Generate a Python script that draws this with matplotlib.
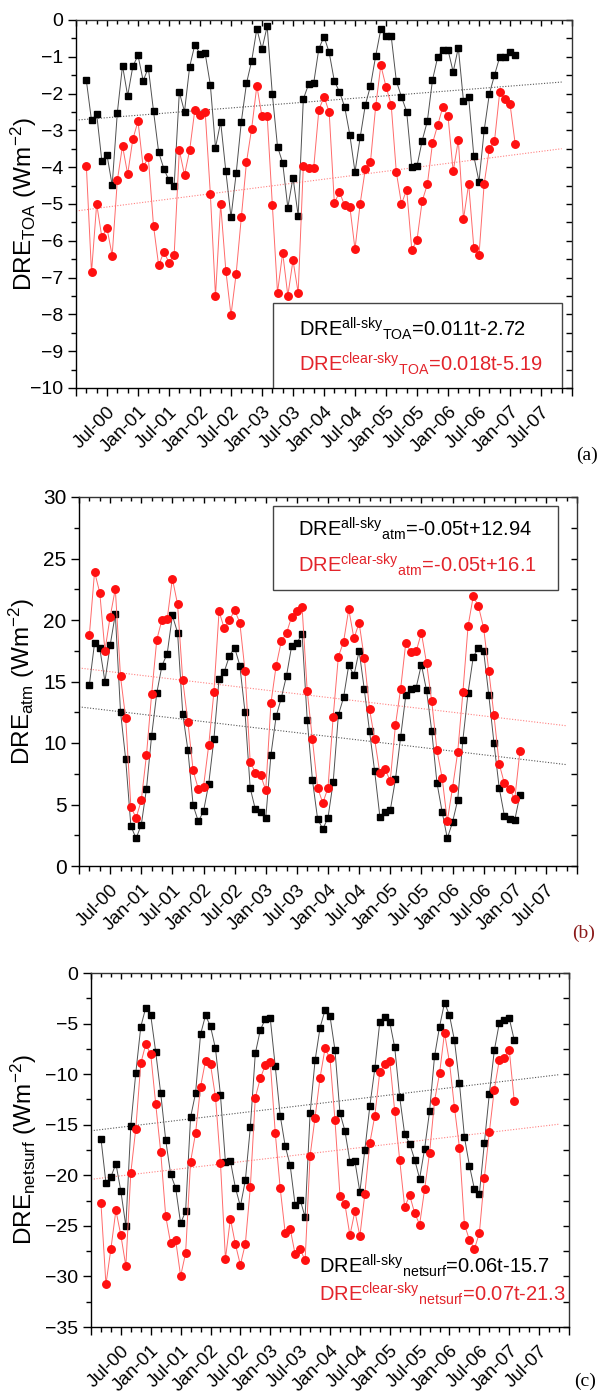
import numpy as np
import matplotlib
matplotlib.use('Agg')
import matplotlib.pyplot as plt
from matplotlib.ticker import MultipleLocator, FixedLocator
from matplotlib.patches import Rectangle

plt.rcParams['font.family'] = ['Liberation Sans', 'DejaVu Sans']
plt.rcParams['mathtext.fontset'] = 'custom'
plt.rcParams['mathtext.rm'] = 'Liberation Sans'
plt.rcParams['mathtext.it'] = 'Liberation Sans:italic'
plt.rcParams['mathtext.bf'] = 'Liberation Sans:bold'
plt.rcParams['mathtext.default'] = 'regular'

# ---------------- data ----------------
# months counted from Jan-2000 (0); data run Mar-2000 .. Feb-2007
months = np.arange(2, 86)

tick_months = list(range(0, 97, 6))
tick_labels = ['', 'Jul-00', 'Jan-01', 'Jul-01', 'Jan-02', 'Jul-02', 'Jan-03', 'Jul-03',
               'Jan-04', 'Jul-04', 'Jan-05', 'Jul-05', 'Jan-06', 'Jul-06', 'Jan-07',
               'Jul-07', '']

toa_all = [-1.64, -2.73, -2.55, -3.83, -3.67, -4.49, -2.52, -1.24, -2.06, -1.26, -0.96,
           -1.65, -1.30, -2.47, -3.59, -4.04, -4.36, -4.50, -1.96, -2.49, -1.27, -0.67,
           -0.92, -0.91, -1.76, -3.47, -2.77, -4.11, -5.36, -4.17, -2.76, -1.72, -1.11,
           -0.24, -0.79, -0.17, -2.02, -3.44, -3.88, -5.10, -4.28, -5.32, -2.15, -1.75,
           -1.72, -0.78, -0.45, -0.88, -1.66, -1.95, -2.36, -3.12, -4.13, -3.19, -2.31,
           -1.79, -0.98, -0.25, -0.43, -0.43, -1.66, -2.09, -2.49, -3.99, -3.97, -3.28,
           -2.75, -1.63, -1.01, -0.81, -0.81, -1.41, -0.75, -2.21, -2.10, -3.70, -4.39,
           -3.00, -2.01, -1.50, -1.01, -1.00, -0.87, -0.95]
toa_clr = [-3.96, -6.86, -5.00, -5.90, -5.66, -6.40, -4.36, -3.42, -4.19, -3.24, -2.75,
           -4.00, -3.73, -5.59, -6.67, -6.30, -6.59, -6.38, -3.54, -4.21, -3.54, -2.44,
           -2.58, -2.49, -4.72, -7.51, -5.00, -6.81, -8.02, -6.89, -5.36, -3.86, -2.95,
           -1.79, -2.62, -2.60, -5.02, -7.41, -6.32, -7.49, -6.53, -7.41, -3.96, -4.03,
           -4.03, -2.45, -2.08, -2.50, -4.97, -4.68, -5.04, -5.07, -6.23, -4.99, -4.05,
           -3.85, -2.35, -1.23, -1.81, -2.30, -4.14, -5.00, -4.61, -6.25, -5.98, -4.92,
           -4.47, -3.35, -2.86, -2.36, -2.61, -4.11, -3.27, -5.41, -4.45, -6.19, -6.39,
           -4.45, -3.51, -3.29, -1.97, -2.15, -2.28, -3.36]

atm_all = [14.73, 18.14, 17.71, 15.0, 17.93, 20.47, 12.56, 8.67, 3.25, 2.25, 3.33,
           6.26, 10.59, 14.08, 16.30, 17.25, 20.37, 18.98, 12.37, 9.40, 4.93,
           3.63, 4.44, 6.66, 10.29, 15.22, 15.79, 17.08, 17.76, 16.30, 12.51,
           6.34, 4.60, 4.41, 3.87, 9.04, 12.16, 13.67, 15.46, 17.90, 18.14,
           18.85, 11.86, 6.99, 3.82, 3.0, 3.93, 6.82, 12.27, 13.70, 16.33,
           15.49, 17.49, 14.35, 10.97, 7.69, 4.01, 4.36, 4.52, 7.04, 10.48,
           13.89, 14.35, 14.51, 16.38, 14.27, 10.97, 6.77, 4.41, 2.25, 3.55,
           5.36, 10.24, 14.08, 17.0, 17.76, 17.49, 13.87, 9.97, 6.36, 4.09,
           3.82, 3.74, 5.77]
atm_clr = [18.79, 23.91, 22.23, 17.52, 20.25, 22.53, 15.41, 12.02, 4.82, 3.90, 5.33,
           8.99, 13.97, 18.41, 20.04, 20.07, 23.37, 21.28, 15.11, 11.70, 7.77,
           6.26, 6.45, 9.80, 14.11, 20.71, 19.31, 19.98, 20.80, 19.79, 15.87,
           8.48, 7.58, 7.39, 6.17, 13.24, 16.27, 18.28, 18.93, 20.28, 20.77,
           21.07, 14.19, 10.29, 6.36, 5.12, 6.36, 12.13, 17.03, 18.22, 20.88,
           18.50, 19.77, 16.87, 12.78, 10.29, 7.53, 7.85, 6.93, 11.45, 14.40,
           18.17, 17.38, 17.46, 18.95, 16.49, 13.38, 9.42, 7.17, 3.66, 6.34,
           9.23, 14.11, 19.50, 21.93, 21.12, 19.36, 15.84, 12.24, 8.31, 6.72,
           6.26, 5.42, 9.34]

surf_all = [-16.37, -20.76, -20.17, -18.84, -21.58, -25.02, -15.08, -9.87, -5.31, -3.43, -4.19,
            -7.82, -11.88, -16.50, -19.90, -21.25, -24.75, -23.56, -14.26, -11.88, -6.07,
            -4.19, -5.28, -7.46, -12.08, -18.71, -18.58, -21.22, -23.07, -20.50, -15.25,
            -7.95, -5.64, -4.55, -4.49, -9.21, -14.09, -17.10, -19.0, -22.97, -22.41,
            -24.13, -13.89, -8.65, -5.41, -3.66, -4.26, -7.62, -13.83, -15.61, -18.65,
            -18.6, -21.65, -17.49, -13.17, -9.44, -4.85, -4.39, -4.85, -7.36, -12.28,
            -15.94, -16.86, -18.45, -20.33, -17.39, -13.66, -8.22, -5.31, -2.94, -4.19,
            -6.67, -10.92, -16.24, -19.04, -21.35, -21.85, -16.83, -11.95, -7.66, -4.95,
            -4.65, -4.46, -6.63]
surf_clr = [-22.77, -30.79, -27.26, -23.47, -25.94, -28.98, -19.74, -15.38, -8.94, -7.03, -8.05,
            -12.97, -17.69, -24.03, -26.73, -26.40, -29.97, -27.69, -18.65, -15.84, -11.25,
            -8.68, -9.04, -12.24, -18.78, -28.25, -24.29, -26.83, -28.85, -26.77, -21.19,
            -12.31, -10.43, -9.11, -8.78, -15.78, -21.29, -25.68, -25.27, -27.82, -27.29,
            -28.42, -18.09, -14.29, -10.36, -7.46, -8.45, -14.55, -22.01, -22.87, -25.94,
            -23.56, -26.01, -21.82, -16.80, -14.13, -9.77, -9.01, -8.68, -13.66, -18.51,
            -23.14, -21.98, -23.73, -24.88, -21.39, -17.79, -12.64, -9.93, -5.91, -8.84,
            -13.33, -17.26, -24.88, -26.37, -27.29, -25.71, -20.23, -15.74, -11.52, -8.61,
            -8.38, -7.59, -12.64]

# trend lines (intercept, slope per month), drawn over t = 0..94
trend_t = np.array([0, 94])
toa_trend_all = (-2.72, 0.011)
toa_trend_clr = (-5.19, 0.018)
atm_trend_all = (12.94, -0.05)
atm_trend_clr = (16.1, -0.05)
surf_trend_all = (-15.6, 0.059)
surf_trend_clr = (-20.4, 0.058)

# ---------------- figure ----------------
W, H = 598, 1395
fig = plt.figure(figsize=(W / 100, H / 100), dpi=100)

BLACK_LINE = '#505050'
RED = '#ff1010'
RED_LINE = '#ff6a6a'
RED_TXT = '#e3242b'


def px_rect(l, t, r, b):
    return [l / W, 1 - b / H, (r - l) / W, (b - t) / H]


def make_panel(rect, all_v, clr_v, ylim, ymaj, ymin, ylabel, tr_all, tr_clr, fsy, fsx):
    ax = fig.add_axes(rect)
    ax.plot(trend_t, tr_all[0] + tr_all[1] * trend_t, ls=(0, (1, 1.5)), lw=0.8,
            color='#555555', zorder=1)
    ax.plot(trend_t, tr_clr[0] + tr_clr[1] * trend_t, ls=(0, (1, 1.5)), lw=0.8,
            color='#ff8080', zorder=1)
    ax.plot(months, all_v, color=BLACK_LINE, lw=0.7, marker='s', ms=4.8,
            mfc='black', mec='black', zorder=3)
    ax.plot(months, clr_v, color=RED_LINE, lw=0.7, marker='o', ms=5.4,
            mfc=RED, mec=RED, zorder=4)
    ax.set_xlim(0, 96)
    ax.set_ylim(*ylim)
    ax.xaxis.set_major_locator(FixedLocator(tick_months))
    ax.set_xticklabels(tick_labels, rotation=45, ha='right', va='top',
                       rotation_mode='anchor', fontsize=fsx)
    ax.xaxis.set_minor_locator(MultipleLocator(2))
    ax.yaxis.set_major_locator(MultipleLocator(ymaj))
    ax.yaxis.set_minor_locator(MultipleLocator(ymin))
    ax.tick_params(which='major', direction='out', length=6, width=1, pad=3)
    ax.tick_params(axis='y', which='major', labelsize=fsy)
    ax.tick_params(axis='x', which='major', pad=5)
    ax.tick_params(which='minor', direction='out', length=3.5, width=1)
    for s in ax.spines.values():
        s.set_linewidth(1.0)
    ax.spines['top'].set_color('#333333')
    ax.spines['right'].set_color('#333333')
    sx = ax.secondary_xaxis('top')
    sx.xaxis.set_major_locator(FixedLocator(tick_months))
    sx.xaxis.set_minor_locator(MultipleLocator(2))
    sx.tick_params(which='major', direction='in', length=4.5, width=1, labeltop=False)
    sx.tick_params(which='minor', direction='in', length=3, width=1)
    sx.spines['top'].set_visible(False)
    sy = ax.secondary_yaxis('right')
    sy.yaxis.set_major_locator(MultipleLocator(ymaj))
    sy.yaxis.set_minor_locator(MultipleLocator(ymin))
    sy.tick_params(which='major', direction='in', length=4.5, width=1, labelright=False)
    sy.tick_params(which='minor', direction='in', length=4.5, width=1)
    sy.spines['right'].set_visible(False)
    ax.set_ylabel(ylabel, fontsize=17.5)
    return ax


# ---- panel (a)
axa = make_panel(px_rect(76, 20, 572, 388), toa_all, toa_clr, (-10, 0), 1, 0.5,
                 r'DRE$_{TOA}$ (Wm$^{-2}$)', toa_trend_all, toa_trend_clr, 14, 13.5)
axa.yaxis.set_label_coords(-0.075, 0.5)
axa.add_patch(Rectangle((0.397, 0.0), 0.582, 0.231, transform=axa.transAxes,
                        fill=True, fc='white', ec='#444444', lw=1.0, zorder=5))
axa.text(0.45, 0.142, r'DRE$^{\text{all-sky}}$$_{\text{TOA}}$=0.011t-2.72',
         transform=axa.transAxes, fontsize=14.5, color='black', zorder=6,
         va='baseline')
axa.text(0.45, 0.045, r'DRE$^{\text{clear-sky}}$$_{\text{TOA}}$=0.018t-5.19',
         transform=axa.transAxes, fontsize=14.5, color=RED_TXT, zorder=6,
         va='baseline')

# ---- panel (b)
axb = make_panel(px_rect(79, 497, 577, 866), atm_all, atm_clr, (0, 30), 5, 2.5,
                 r'DRE$_{atm}$ (Wm$^{-2}$)', atm_trend_all, atm_trend_clr, 15, 13.5)
axb.yaxis.set_label_coords(-0.084, 0.5)
axb.add_patch(Rectangle((0.389, 0.747), 0.572, 0.229, transform=axb.transAxes,
                        fill=True, fc='white', ec='#444444', lw=1.0, zorder=5))
axb.text(0.44, 0.893, r'DRE$^{\text{all-sky}}$$_{\text{atm}}$=-0.05t+12.94',
         transform=axb.transAxes, fontsize=14.5, color='black', zorder=6,
         va='baseline')
axb.text(0.44, 0.796, r'DRE$^{\text{clear-sky}}$$_{\text{atm}}$=-0.05t+16.1',
         transform=axb.transAxes, fontsize=14.5, color=RED_TXT, zorder=6,
         va='baseline')

# ---- panel (c)
axc = make_panel(px_rect(91, 973, 569, 1327), surf_all, surf_clr, (-35, 0), 5, 2.5,
                 r'DRE$_{netsurf}$ (Wm$^{-2}$)', surf_trend_all, surf_trend_clr, 14, 13.5)
axc.yaxis.set_label_coords(-0.108, 0.5)
axc.text(0.477, 0.152, r'DRE$^{\text{all-sky}}$$_{\text{netsurf}}$=0.06t-15.7',
         transform=axc.transAxes, fontsize=14.5, color='black', zorder=6,
         va='baseline')
axc.text(0.477, 0.072, r'DRE$^{\text{clear-sky}}$$_{\text{netsurf}}$=0.07t-21.3',
         transform=axc.transAxes, fontsize=14.5, color=RED_TXT, zorder=6,
         va='baseline')

# panel letters
fig.text(587 / W, 1 - 455 / H, '(a)', family='Liberation Serif', fontsize=14,
         ha='center', va='center', color='black')
fig.text(584 / W, 1 - 933 / H, '(b)', family='Liberation Serif', fontsize=14,
         ha='center', va='center', color='#8b1a1a')
fig.text(585 / W, 1 - 1381 / H, '(c)', family='Liberation Serif', fontsize=14,
         ha='center', va='center', color='black')

fig.savefig('out.png', dpi=100)
